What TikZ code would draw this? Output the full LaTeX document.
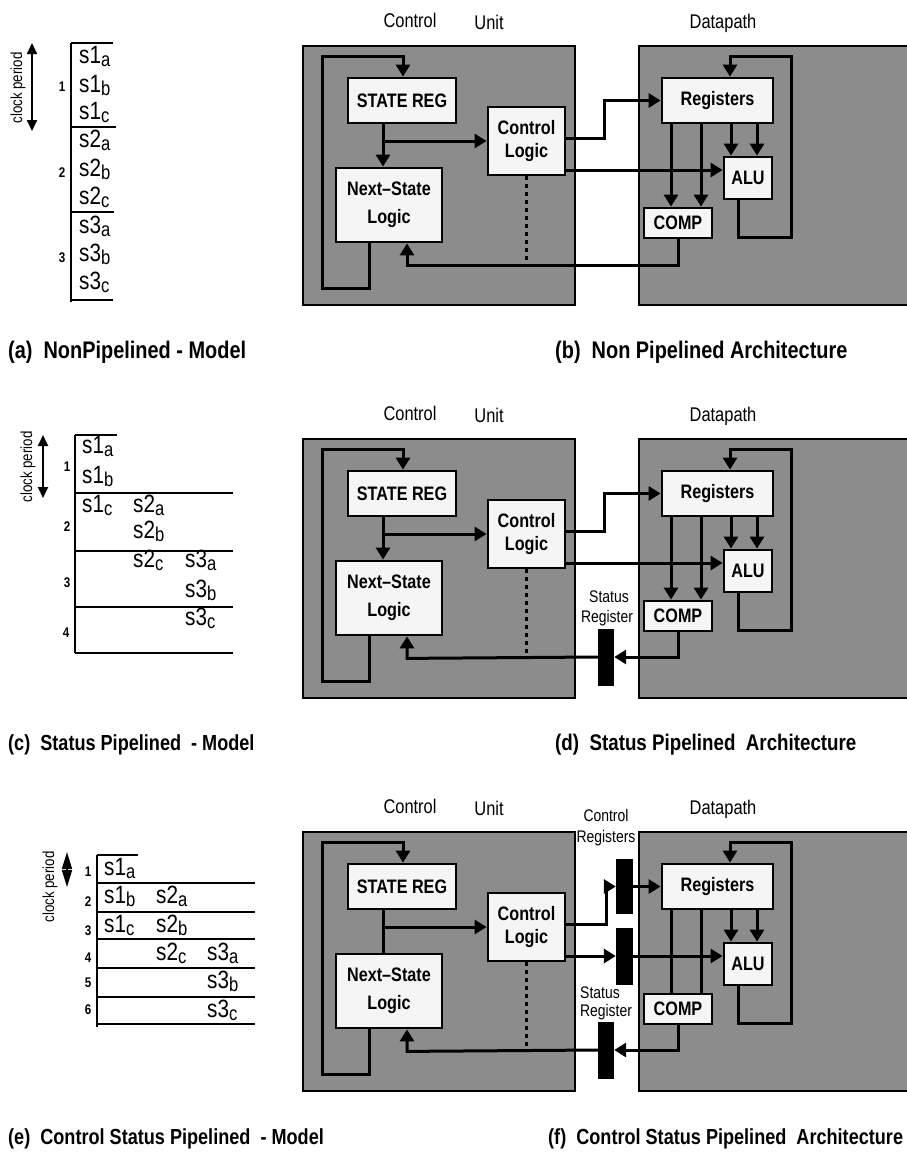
\documentclass[tikz,border=0pt]{standalone}
\usepackage{fontspec}
\setmainfont{Liberation Sans}[FakeStretch=0.83]
\usetikzlibrary{arrows.meta,calc}
\newcommand\stx[2]{s#1\raisebox{-3pt}{\fontsize{20}{22}\selectfont #2}}
\tikzset{
 unitbox/.style={draw=black, line width=1.2pt, fill=black!45, inner sep=0pt},
 blk/.style={draw=black, line width=2.8pt, fill=black!4, font=\fontsize{19.5}{23}\selectfont\bfseries, align=center, inner sep=0pt},
 wire/.style={line width=3pt},
 arr/.style={wire, -{Triangle[length=12pt,width=14pt]}},
 regbar/.style={fill=black, draw=none, minimum width=16pt, inner sep=0pt},
 lbl/.style={font=\fontsize{19.8}{22}\selectfont, inner sep=0pt},
 smalllbl/.style={font=\fontsize{16.8}{18}\selectfont, inner sep=0pt},
 captxt/.style={font=\fontsize{21.8}{24}\selectfont\bfseries, anchor=west, inner sep=0pt},
 numtxt/.style={font=\fontsize{14}{15}\selectfont\bfseries, inner sep=0pt},
 sttxt/.style={font=\fontsize{25}{27}\selectfont, anchor=base west, inner sep=0pt},
 clklbl/.style={font=\fontsize{16}{17}\selectfont, rotate=90, inner sep=0pt},
 tabline/.style={line width=1.6pt},
 clkarrow/.style={line width=1.8pt, {Triangle[length=11pt,width=10pt]}-{Triangle[length=11pt,width=10pt]}},
}
\newcommand\archcore[1]{%
 \node[unitbox, minimum width=272pt, minimum height=259pt] (cu#1) at (439,175.5) {};
 \node[unitbox, minimum width=272pt, minimum height=259pt] (dpb#1) at (775,175.5) {};
 \node[blk, minimum width=108pt, minimum height=45pt] (sr#1) at (402,100.5) {STATE REG};
 \node[blk, minimum width=77pt, minimum height=68pt] (cl#1) at (526.5,141) {Control\\[0pt]Logic};
 \node[blk, minimum width=106pt, minimum height=74pt] (ns#1) at (389,205) {Next--State\\[5pt]Logic};
 \node[blk, minimum width=111pt, minimum height=45pt] (rg#1) at (717.5,100.5) {Registers};
 \node[blk, minimum width=48pt, minimum height=42pt] (alu#1) at (748,178) {ALU};
 \node[blk, minimum width=68pt, minimum height=30pt] (cp#1) at (678,223) {COMP};
 \coordinate (cuB#1) at (322,288);
 \coordinate (cuT#1) at (322,56);
 \coordinate (dpB#1) at (791,237);
 \coordinate (dpT#1) at (791,56);
 \coordinate (fb#1) at ([xshift=18pt,yshift=-22pt]ns#1.south);
 \draw[arr] ([xshift=-20pt]ns#1.south) |- (cuB#1) -- (cuT#1) -| ([xshift=1pt]sr#1.north);
 \draw[arr] ([xshift=-19pt]sr#1.south |- cl#1.west) -- (cl#1.west);
 \draw[line width=2.2pt, dash pattern=on 4pt off 4pt] (cl#1.south) -- (cl#1.south |- fb#1);
 \draw[arr] ([xshift=-10pt]alu#1.south) |- (dpB#1) -- (dpT#1) -| ([xshift=12.5pt]rg#1.north);
 \draw[arr] ([xshift=13.5pt]rg#1.south) -- ([xshift=13.5pt]rg#1.south |- alu#1.north);
 \draw[arr] ([xshift=39.5pt]rg#1.south) -- ([xshift=39.5pt]rg#1.south |- alu#1.north);
 \node[lbl] (ctl#1) at (410,20) {Control};
 \node[lbl] (unit#1) at (489,22) {Unit};
 \node[lbl] (dpl#1) at (723,23) {Datapath};
}
\begin{document}
\begin{tikzpicture}[x=1pt,y=-1pt]
\fill[white] (0,0) rectangle (907,1159);
\useasboundingbox (0,0) rectangle (907,1159);

% ---------- (a) model ----------
\draw[tabline] (71,43) -- (71,302);
\draw[tabline] (71,43) -- (113,43);
\draw[tabline] (71,127) -- (116,127);
\draw[tabline] (71,212) -- (114,212);
\draw[tabline] (71,300) -- (113,300);
\node[sttxt] (a1) at (79,63) {\stx{1}{a}};
\node[sttxt] (a2) at (79,92) {\stx{1}{b}};
\node[sttxt] (a3) at (79,119) {\stx{1}{c}};
\node[sttxt] (a4) at (79,147) {\stx{2}{a}};
\node[sttxt] (a5) at (79,176) {\stx{2}{b}};
\node[sttxt] (a6) at (79,204) {\stx{2}{c}};
\node[sttxt] (a7) at (79,233) {\stx{3}{a}};
\node[sttxt] (a8) at (79,261) {\stx{3}{b}};
\node[sttxt] (a9) at (79,289) {\stx{3}{c}};
\node[numtxt] (an1) at (62,87) {1};
\node[numtxt] (an2) at (62,173) {2};
\node[numtxt] (an3) at (62,258) {3};
\draw[clkarrow] (32,43) -- (32,131);
\node[clklbl] (acl) at (18,88) {clock period};

% ---------- (c) model ----------
\draw[tabline] (75,435) -- (75,653);
\draw[tabline] (75,435) -- (117,435);
\draw[tabline] (75,493) -- (233,493);
\draw[tabline] (75,551) -- (233,551);
\draw[tabline] (75,607) -- (233,607);
\draw[tabline] (75,653) -- (233,653);
\node[sttxt] (c1) at (82,453) {\stx{1}{a}};
\node[sttxt] (c2) at (82,483) {\stx{1}{b}};
\node[sttxt] (c3) at (82,512) {\stx{1}{c}};
\node[sttxt] (c4) at (133,512) {\stx{2}{a}};
\node[sttxt] (c5) at (133,538) {\stx{2}{b}};
\node[sttxt] (c6) at (133,567) {\stx{2}{c}};
\node[sttxt] (c7) at (185,567) {\stx{3}{a}};
\node[sttxt] (c8) at (185,597) {\stx{3}{b}};
\node[sttxt] (c9) at (185,625) {\stx{3}{c}};
\node[numtxt] (cn1) at (67,467) {1};
\node[numtxt] (cn2) at (67,527) {2};
\node[numtxt] (cn3) at (67,583) {3};
\node[numtxt] (cn4) at (66,633) {4};
\draw[clkarrow] (43,435) -- (43,498);
\node[clklbl] (ccl) at (28,467) {clock period};

% ---------- (e) model ----------
\draw[tabline] (97,855) -- (97,1027);
\draw[tabline] (97,855) -- (138,855);
\draw[tabline] (97,883) -- (255,883);
\draw[tabline] (97,912) -- (255,912);
\draw[tabline] (97,939) -- (255,939);
\draw[tabline] (97,968) -- (255,968);
\draw[tabline] (97,997) -- (255,997);
\draw[tabline] (97,1024) -- (255,1024);
\node[sttxt] (e1) at (104,875) {\stx{1}{a}};
\node[sttxt] (e2) at (104,903) {\stx{1}{b}};
\node[sttxt] (e3) at (156,903) {\stx{2}{a}};
\node[sttxt] (e4) at (104,932) {\stx{1}{c}};
\node[sttxt] (e5) at (156,932) {\stx{2}{b}};
\node[sttxt] (e6) at (156,960) {\stx{2}{c}};
\node[sttxt] (e7) at (207,960) {\stx{3}{a}};
\node[sttxt] (e8) at (207,988) {\stx{3}{b}};
\node[sttxt] (e9) at (207,1017) {\stx{3}{c}};
\node[numtxt] (en1) at (88,872) {1};
\node[numtxt] (en2) at (88,902) {2};
\node[numtxt] (en3) at (88,931) {3};
\node[numtxt] (en4) at (88,958) {4};
\node[numtxt] (en5) at (88,983) {5};
\node[numtxt] (en6) at (88,1010) {6};
\draw[line width=1.6pt, {Triangle[length=17pt,width=10pt]}-{Triangle[length=17pt,width=10pt]}] (67,852) -- (67,887);
\node[clklbl] (ecl) at (50,887) {clock period};

% ---------- (b) architecture ----------
\archcore{b}
\draw[arr] ([xshift=-19pt]srb.south) -- ([xshift=-19pt]srb.south |- nsb.north);
\draw[arr] ([xshift=-46.5pt]rgb.south) -- ([xshift=-46.5pt]rgb.south |- cpb.north);
\draw[arr] ([xshift=-16.5pt]rgb.south) -- ([xshift=-16.5pt]rgb.south |- cpb.north);
\draw[arr] ([yshift=3pt]clb.east) -- ++(38,0) |- (rgb.west);
\draw[arr] ([yshift=-29pt]clb.east) -- ([yshift=-29pt]clb.east -| alub.west);
\draw[arr] (cpb.south) |- (fbb) -- (nsb.south -| fbb);

% ---------- (d) architecture ----------
\begin{scope}[yshift=-393pt]
\archcore{d}
\draw[arr] ([xshift=-19pt]srd.south) -- ([xshift=-19pt]srd.south |- nsd.north);
\draw[arr] ([xshift=-46.5pt]rgd.south) -- ([xshift=-46.5pt]rgd.south |- cpd.north);
\draw[arr] ([xshift=-16.5pt]rgd.south) -- ([xshift=-16.5pt]rgd.south |- cpd.north);
\draw[arr] ([yshift=3pt]cld.east) -- ++(38,0) |- (rgd.west);
\draw[arr] ([yshift=-29pt]cld.east) -- ([yshift=-29pt]cld.east -| alud.west);
\node[regbar, minimum height=57pt] (sregd) at (606,264) {};
\draw[arr] (cpd.south) |- (sregd.east);
\draw[arr] (sregd.west) -- (fbd) -- (nsd.south -| fbd);
\node[smalllbl] (stld) at (609,204) {Status};
\node[smalllbl] (rgld) at (607,225) {Register};
\end{scope}

% ---------- (f) architecture ----------
\begin{scope}[yshift=-786pt]
\archcore{f}
\draw[wire] ([xshift=-19pt]srf.south) -- ([xshift=-19pt]srf.south |- nsf.north);
\draw[wire] ([xshift=-46.5pt]rgf.south) -- ([xshift=-46.5pt]rgf.south |- cpf.north);
\draw[wire] ([xshift=-16.5pt]rgf.south) -- ([xshift=-16.5pt]rgf.south |- cpf.north);
\node[regbar, minimum width=17pt, minimum height=55pt] (creg1f) at (624.5,100.5) {};
\node[regbar, minimum width=17pt, minimum height=57pt] (creg2f) at (624.5,170) {};
\draw[arr] ([yshift=3pt]clf.east) -- ++(40,0) |- (creg1f.west);
\draw[arr] (creg1f.east) -- (rgf.west);
\draw[arr] ([yshift=-29pt]clf.east) -- ([yshift=-29pt]clf.east -| creg2f.west);
\draw[arr] (creg2f.east) -- (creg2f.east -| aluf.west);
\node[regbar, minimum height=57pt] (sregf) at (606,264) {};
\draw[arr] (cpf.south) |- (sregf.east);
\draw[arr] (sregf.west) -- (fbf) -- (nsf.south -| fbf);
\node[smalllbl] (ctrlf) at (606,29) {Control};
\node[smalllbl] (crlf) at (606,52) {Registers};
\node[smalllbl] (stlf) at (600,207) {Status};
\node[smalllbl] (rglf) at (606,226) {Register};
\end{scope}

% ---------- captions ----------
\node[captxt, font=\fontsize{24}{26}\selectfont\bfseries] (capa) at (8,352) {(a)\ \ NonPipelined - Model};
\node[captxt, font=\fontsize{24}{26}\selectfont\bfseries] (capb) at (555,352) {(b)\ \ Non Pipelined Architecture};
\node[captxt] (capc) at (8,745) {(c)\ \ Status Pipelined\ \ - Model};
\node[captxt, font=\fontsize{22.6}{25}\selectfont\bfseries] (capd) at (555,745) {(d)\ \ Status Pipelined\ \ Architecture};
\node[captxt] (cape) at (8,1139) {(e)\ \ Control Status Pipelined\ \ - Model};
\node[captxt] (capf) at (548,1139) {(f)\ \ Control Status Pipelined\ \ Architecture};
\end{tikzpicture}
\end{document}
